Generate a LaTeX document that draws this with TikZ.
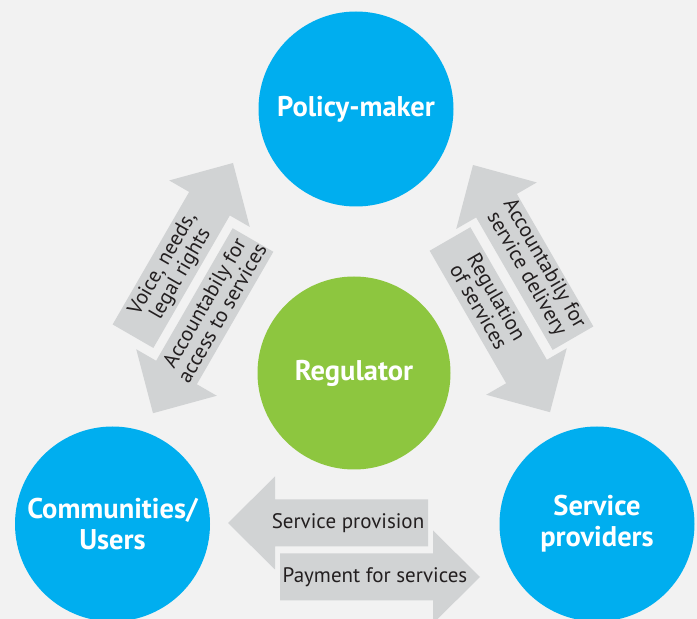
\documentclass[tikz,border=0pt]{standalone}
\usepackage{fontspec}
\setmainfont{PT Sans}
\usetikzlibrary{calc}
\definecolor{bg}{HTML}{F2F2F2}
\definecolor{cblue}{HTML}{00AEEF}
\definecolor{cgreen}{HTML}{8DC63F}
\definecolor{agray}{HTML}{D1D3D4}
\definecolor{txt}{HTML}{231F20}
\tikzset{
  actor/.style={circle, fill=cblue, minimum size=195pt, inner sep=0pt, text=white,
    font=\bfseries\fontsize{28.5}{31}\selectfont, align=center},
  regbox/.style={actor, fill=cgreen, minimum size=193pt},
  arrowlabel/.style={text=txt, font=\fontsize{21}{20.5}\selectfont, align=center, inner sep=0pt},
  pics/blockarrow/.style={code={
    \fill[agray] (0,-23.5) -- (153,-23.5) -- (153,-46.5) -- (200,0) -- (153,46.5) -- (153,23.5) -- (0,23.5) -- cycle;}}
}
\begin{document}
\begin{tikzpicture}[x=1pt,y=1pt]
\useasboundingbox (0,0) rectangle (697,619);
\clip (0,0) rectangle (697,619);
\fill[bg] (0,0) rectangle (697,619);

% block arrows
\pic[rotate=60]  at (133,282.8) {blockarrow};
\pic[rotate=240] at (253,379)   {blockarrow};
\pic[rotate=120] at (573,280.8) {blockarrow};
\pic[rotate=300] at (450,380)   {blockarrow};
\pic[rotate=180] at (428,96)    {blockarrow};
\pic[rotate=0]   at (280,42)    {blockarrow};

% circles
\node[actor]  (pm)  at (356,510)   {Policy-maker};
\node[regbox] (reg) at (354,246)   {Regulator};
\node[actor]  (cu)  at (112.5,95)  {Communities/\\Users};
\node[actor]  (sp)  at (597,95)    {Service\\providers};

% arrow labels
\node[arrowlabel, rotate=60]  (voice)   at (172,350)   {Voice, needs,\\legal rights};
\node[arrowlabel, rotate=60]  (access)  at (213,311)   {Accountabily for\\access to services};
\node[arrowlabel, rotate=-60] (deliv)   at (535,350)   {Accountabily for\\service delivery};
\node[arrowlabel, rotate=-60] (regul)   at (488,317)   {Regulation\\of services};
\node[arrowlabel]             (prov)    at (348,96)    {Service provision};
\node[arrowlabel]             (pay)     at (375,42)    {Payment for services};
\end{tikzpicture}
\end{document}
